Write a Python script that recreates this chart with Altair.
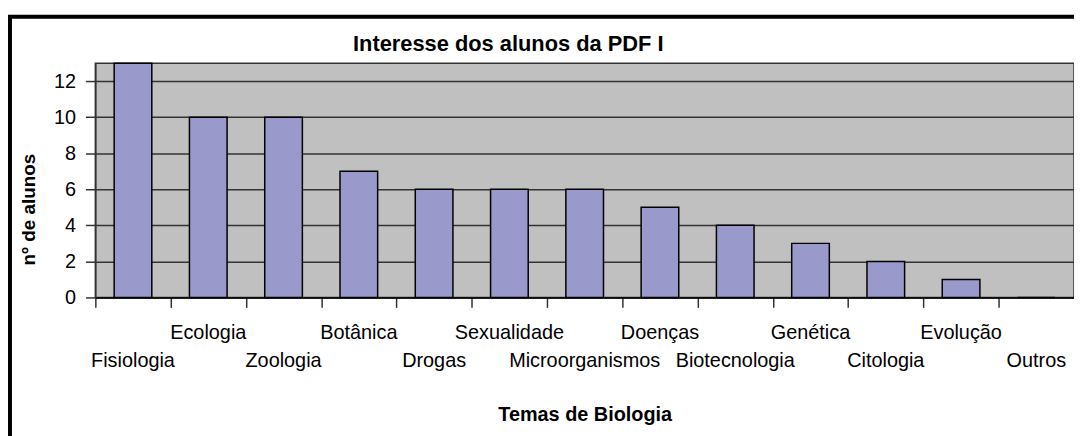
import altair as alt
import pandas as pd

categories = ["Fisiologia", "Ecologia", "Zoologia", "Botânica", "Drogas", "Sexualidade",
              "Microorganismos", "Doenças", "Biotecnologia", "Genética", "Citologia",
              "Evolução", "Outros"]
values = [13, 10, 10, 7, 6, 6, 6, 5, 4, 3, 2, 1, 0]
y_ticks = [0, 2, 4, 6, 8, 10, 12]
chart_title = "Interesse dos alunos da PDF I"
x_title = "Temas de Biologia"
y_title = "nº de alunos"

FONT = "Liberation Sans"
PLOT_W = 986
STEP = PLOT_W / len(categories)

df = pd.DataFrame({
    "tema": categories,
    "alunos": values,
    "row": ["upper" if i % 2 else "lower" for i in range(len(categories))],
})

x_enc = alt.X(
    "tema:N", sort=categories,
    scale=alt.Scale(paddingInner=0.5, paddingOuter=0.25),
    axis=alt.Axis(
        labels=False, tickOffset=-STEP / 2, tickSize=10, tickColor="#333333", tickWidth=1.5,
        domainColor="#000000", domainWidth=1.5,
        title=x_title, titleFont=FONT, titleFontSize=20, titleFontWeight="bold",
        titleColor="#000000", titleBaseline="alphabetic", titleY=124,
    ),
)

y_enc = alt.Y(
    "alunos:Q",
    scale=alt.Scale(domain=[0, 13], nice=False),
    axis=alt.Axis(
        values=y_ticks, grid=True, gridColor="#333333", gridWidth=1.4,
        tickSize=10, tickColor="#333333", tickWidth=1.5, domainColor="#333333", domainWidth=1.5,
        labelFont=FONT, labelFontSize=20, labelColor="#000000", labelPadding=10,
        title=y_title, titleFont=FONT, titleFontSize=19, titleFontWeight="bold",
        titleColor="#000000", titleBaseline="alphabetic", titleX=-61, titleY=147,
        titleAngle=270,
    ),
)

base = alt.Chart(df)

bars = base.mark_bar(fill="#9999CC", stroke="#000000", strokeWidth=1.5).encode(
    x=x_enc, y=y_enc
)

txt_upper = base.transform_filter("datum.row == 'upper'").mark_text(
    font=FONT, fontSize=20, baseline="alphabetic", align="center", color="#000000"
).encode(x=alt.X("tema:N", sort=categories), y=alt.value(278), text="tema:N")

txt_lower = base.transform_filter("datum.row == 'lower'").mark_text(
    font=FONT, fontSize=20, baseline="alphabetic", align="center", color="#000000"
).encode(x=alt.X("tema:N", sort=categories), y=alt.value(306), text="tema:N")

title_mark = alt.Chart(pd.DataFrame({"t": [chart_title]})).mark_text(
    font=FONT, fontSize=22, fontWeight="bold", baseline="alphabetic", align="center",
    color="#000000"
).encode(x=alt.value(416), y=alt.value(-12), text="t:N")

border = alt.Chart(pd.DataFrame({"b": [0]})).mark_rect(
    filled=False, stroke="#000000", strokeWidth=4
).encode(x=alt.value(-86), x2=alt.value(1100), y=alt.value(-46.7), y2=alt.value(500))

chart = alt.layer(bars, txt_upper, txt_lower, title_mark, border).properties(
    width=PLOT_W, height=236,
    autosize=alt.AutoSizeParams(type="none"),
    padding={"left": 88, "top": 54, "right": 0, "bottom": 138},
    background="#FFFFFF",
).configure_view(
    fill="#C0C0C0", stroke="#333333", strokeWidth=1.5
)

chart.save("out.html", embed_options={"renderer": "svg", "actions": False})
